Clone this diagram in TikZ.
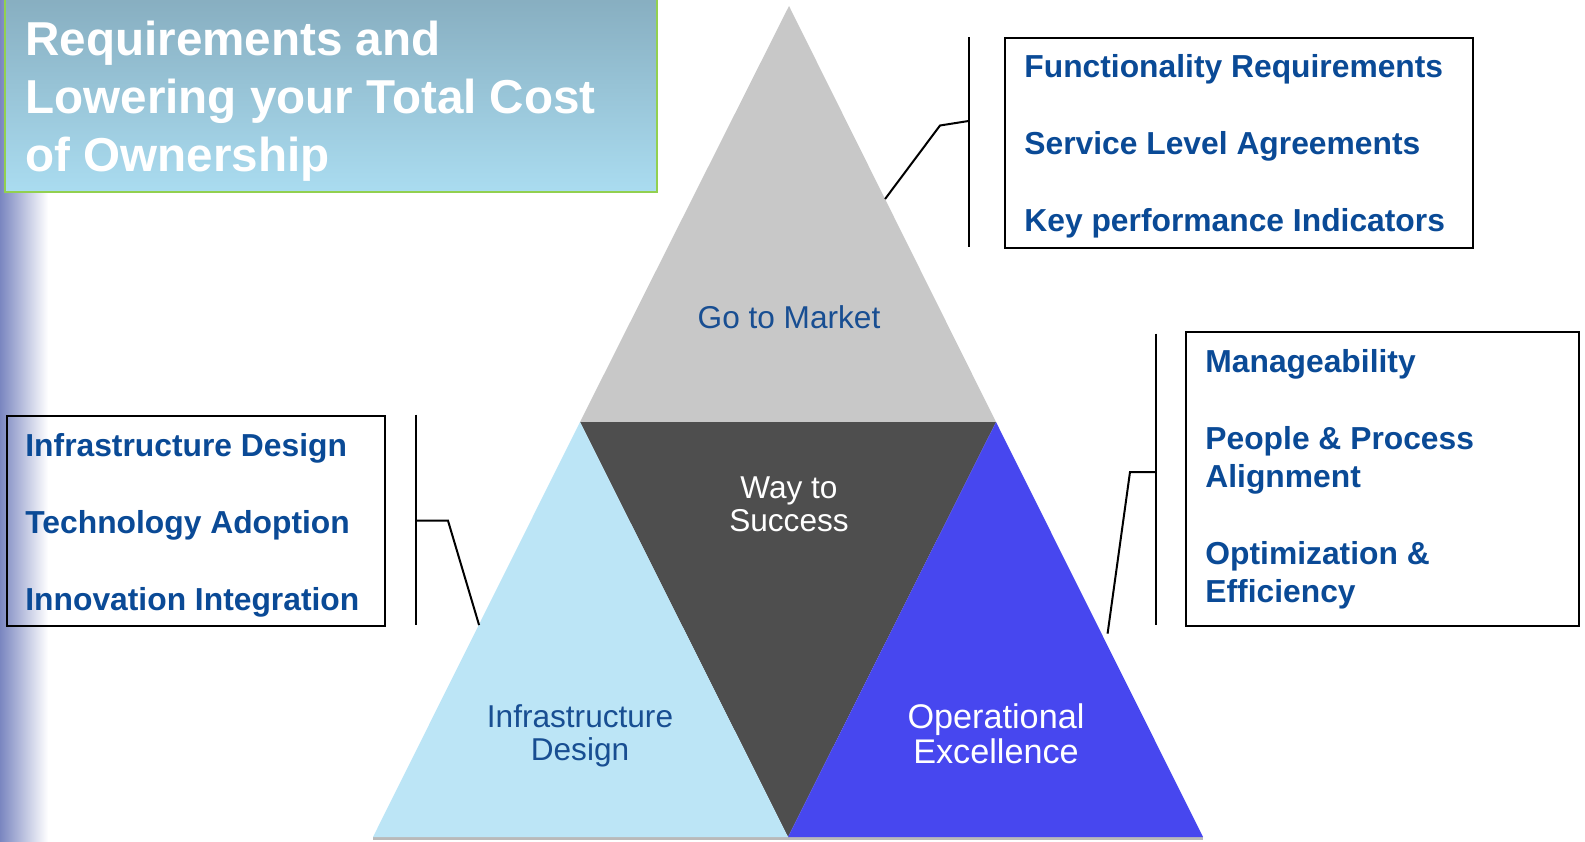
\documentclass[tikz,border=0pt]{standalone}
\usepackage{fontspec}
\setmainfont{Liberation Sans}
\usetikzlibrary{calc,positioning}
\usepackage{xcolor}

\definecolor{navytext}{RGB}{10,74,150}
\definecolor{facettext}{RGB}{24,78,146}
\definecolor{gtmgrey}{RGB}{200,200,200}
\definecolor{waydark}{RGB}{78,78,78}
\definecolor{infrablue}{RGB}{188,229,246}
\definecolor{opblue}{RGB}{71,71,239}
\definecolor{titletop}{RGB}{132,170,188}
\definecolor{titlebot}{RGB}{170,220,240}
\definecolor{titleedge}{RGB}{146,208,80}
\definecolor{stripblue}{RGB}{122,134,192}

\begin{document}
\begin{tikzpicture}[x=0.5pt,y=-0.5pt,
        listbox/.style={
            draw=black,
            line width=1pt,
            inner sep=0pt,
            anchor=north west
        },
        listtext/.style={
            text=navytext,
            font=\fontsize{15.9}{19}\selectfont\bfseries,
            align=left,
            inner sep=0pt,
            anchor=north west
        },
        facetlabel/.style={
            font=\fontsize{15.8}{16.5}\selectfont,
            align=center,
            inner sep=0pt
        },
        bracket/.style={draw=black, line width=1pt}
    ]
\useasboundingbox (0,0) rectangle (1585,841);

% Left fading strip
\shade[left color=stripblue, right color=white] (0,0) rectangle (48,841);

% Title banner (cut at the top edge)
\shade[top color=titletop, bottom color=titlebot] (5,-20) rectangle (657,192);
\draw[titleedge, line width=1pt] (5,-20) rectangle (657,192);
\node[text=white, font=\fontsize{23.8}{28.8}\selectfont\bfseries, align=left,
      inner sep=0pt, anchor=north west] (title) at (25,21)
    {Requirements and\\Lowering your Total Cost\\of Ownership};

% Pyramid corners
\coordinate (apex) at (789,6);
\coordinate (lmid) at (580,422);
\coordinate (rmid) at (996,422);
\coordinate (bl) at (373,837);
\coordinate (bm) at (788,837);
\coordinate (br) at (1203,837);

% Soft shadow under the base
\fill[gray!55] ($(bl)+(0,0)$) rectangle ($(br)+(0,3)$);

% Four facets
\fill[gtmgrey] (apex) -- (lmid) -- (rmid) -- cycle;
\fill[waydark] (lmid) -- (rmid) -- (bm) -- cycle;
\fill[infrablue] (lmid) -- (bl) -- (bm) -- cycle;
\fill[opblue] (rmid) -- (bm) -- (br) -- cycle;

% Facet labels
\node[facetlabel, text=facettext] (gtm) at (789,317.5) {Go to Market};
\node[facetlabel, text=white] (way) at (789,504) {Way to\\Success};
\node[facetlabel, text=facettext] (infra) at (580,736) {Infrastructure\\Design};
\node[facetlabel, text=white, font=\fontsize{17.1}{17.6}\selectfont] (oper) at (996,734) {Operational\\Excellence};

% Top right list
\node[listbox, minimum width=234pt, minimum height=104.8pt] (gtmbox) at (1004,37.4) {};
\node[listtext] (gtmlist) at ($(gtmbox.north west)+(20,17)$)
    {Functionality Requirements\\[19.5pt]
     Service Level Agreements\\[19.5pt]
     Key performance Indicators};
\coordinate (gtmtop) at (968.5,37.4);
\coordinate (gtmbot) at (968.5,247);
\coordinate (gtmmid) at (968.5,121);
\coordinate (gtmknee) at (940,125.5);
\draw[bracket] (gtmtop) -- (gtmbot);
\draw[bracket] (gtmmid) -- (gtmknee) -- ($(apex)!0.464!(rmid)$);

% Right list
\node[listbox, minimum width=196.5pt, minimum height=147.2pt] (opbox) at (1185,330.6) {};
\node[listtext] (oplist) at ($(opbox.north west)+(20,18.5)$)
    {Manageability\\[19.5pt]
     People \& Process\\
     Alignment\\[19.5pt]
     Optimization \&\\
     Efficiency};
\coordinate (optop) at (1155.6,333.6);
\coordinate (opbot) at (1155.6,625);
\coordinate (opmid) at (1155.6,472);
\coordinate (opknee) at (1130,472);
\draw[bracket] (optop) -- (opbot);
\draw[bracket] (opmid) -- (opknee) -- ($(rmid)!0.51!(br)+(6,0)$);

% Left list
\node[listbox, minimum width=189pt, minimum height=105.25pt] (infrabox) at (6,414.5) {};
\node[listtext] (infralist) at ($(infrabox.north west)+(19,18.5)$)
    {Infrastructure Design\\[19.5pt]
     Technology Adoption\\[19.5pt]
     Innovation Integration};
\coordinate (infratop) at (415.5,414.5);
\coordinate (infrabot) at (415.5,625);
\coordinate (inframid) at (415.5,520.7);
\coordinate (infraknee) at (448,520.7);
\draw[bracket] (infratop) -- (infrabot);
\draw[bracket] (inframid) -- (infraknee) -- ($(apex)!0.745!(bl)$);

\end{tikzpicture}
\end{document}
